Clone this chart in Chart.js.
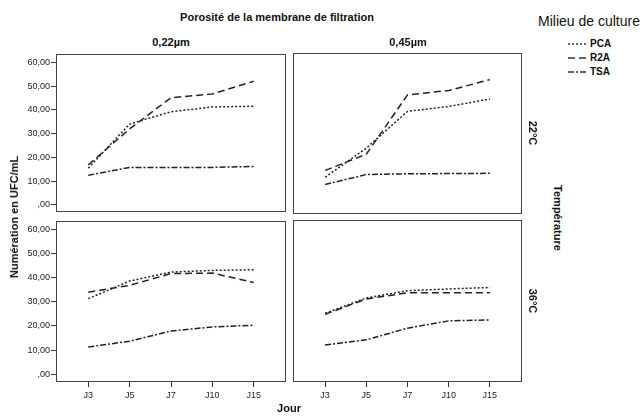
<!DOCTYPE html>
<html>
<head>
<meta charset="utf-8">
<script src="https://cdn.jsdelivr.net/npm/chart.js@4/dist/chart.umd.min.js"></script>
<style>
  html, body { margin: 0; padding: 0; background: #fff; }
  #wrap { position: relative; width: 641px; height: 418px; overflow: hidden; background: #fff;
          font-family: "Liberation Sans", Arial, sans-serif; color: #111; }
  canvas { position: absolute; }
  .t { position: absolute; white-space: nowrap; }
  .b { font-weight: bold; font-size: 11px; }
  .rot90 { transform: translate(-50%, -50%) rotate(90deg); }
  .rotm90 { transform: translate(-50%, -50%) rotate(-90deg); }
  .ctr { transform: translate(-50%, -50%); }
  .leg { position: absolute; left: 568px; font-size: 10px; font-weight: bold; display: flex; align-items: center; }
  .leg svg { margin-right: 3px; }
</style>
</head>
<body>
<div id="wrap">
  <canvas id="c1" width="291" height="171" style="left:0px;top:48px;"></canvas>
  <canvas id="c2" width="239" height="171" style="left:288px;top:48px;"></canvas>
  <canvas id="c3" width="291" height="203" style="left:0px;top:215px;"></canvas>
  <canvas id="c4" width="239" height="203" style="left:288px;top:215px;"></canvas>

  <div class="t b ctr" style="left:277px;top:17px;">Porosité de la membrane de filtration</div>
  <div class="t b ctr" style="left:171px;top:42px;">0,22µm</div>
  <div class="t b ctr" style="left:408px;top:42px;">0,45µm</div>
  <div class="t" style="left:538px;top:13px;font-size:14px;">Milieu de culture</div>
  <div class="leg" style="top:38px;"><svg width="19" height="4"><line x1="0" y1="2" x2="19" y2="2" stroke="#333" stroke-width="1.5" stroke-dasharray="2,2"/></svg>PCA</div>
  <div class="leg" style="top:52px;"><svg width="19" height="4"><line x1="0" y1="2" x2="19" y2="2" stroke="#333" stroke-width="1.5" stroke-dasharray="7,4"/></svg>R2A</div>
  <div class="leg" style="top:66px;"><svg width="19" height="4"><line x1="0" y1="2" x2="19" y2="2" stroke="#333" stroke-width="1.5" stroke-dasharray="6,2,2,2"/></svg>TSA</div>
  <div class="t b rot90" style="left:533px;top:133px;">22°C</div>
  <div class="t b rot90" style="left:533px;top:301px;">36°C</div>
  <div class="t b rot90" style="left:558px;top:218px;">Température</div>
  <div class="t b rotm90" style="left:14px;top:217px;">Numération en UFC/mL</div>
  <div class="t b ctr" style="left:289px;top:408px;">Jour</div>
</div>
<script>
// Categories
const days = ['J3', 'J5', 'J7', 'J10', 'J15'];
const seriesNames = ['PCA', 'R2A', 'TSA'];
// 0,22µm – 22°C
const pca_022_22 = [15.5, 34.0, 39.2, 41.2, 41.5];
const r2a_022_22 = [16.8, 32.0, 45.1, 46.7, 52.0];
const tsa_022_22 = [12.5, 15.8, 15.8, 15.8, 16.2];
// 0,45µm – 22°C
const pca_045_22 = [12.0, 24.0, 39.2, 41.2, 44.3];
const r2a_045_22 = [14.8, 21.5, 46.0, 47.8, 52.3];
const tsa_045_22 = [9.0, 13.1, 13.4, 13.5, 13.6];
// 0,22µm – 36°C
const pca_022_36 = [31.3, 38.6, 42.3, 43.0, 43.3];
const r2a_022_36 = [34.0, 36.8, 41.7, 41.9, 38.0];
const tsa_022_36 = [11.3, 13.7, 17.9, 19.6, 20.3];
// 0,45µm – 36°C
const pca_045_36 = [25.0, 31.3, 34.3, 35.0, 35.6];
const r2a_045_36 = [24.6, 30.9, 33.4, 33.4, 33.4];
const tsa_045_36 = [12.0, 14.1, 18.9, 21.9, 22.3];
// Y tick labels
const yTicks = [0, 10, 20, 30, 40, 50, 60];

const FONT = '"Liberation Sans", Arial, sans-serif';
const dashes = [[2, 2], [7, 4], [6, 2, 2, 2]];

const boxPlugin = {
  id: 'box',
  afterDraw(chart) {
    const { ctx, chartArea: a } = chart;
    ctx.save();
    ctx.strokeStyle = '#444';
    ctx.lineWidth = 1;
    ctx.strokeRect(Math.round(a.left) + 0.5, Math.round(a.top) + 0.5,
                   Math.round(a.right - a.left) - 1, Math.round(a.bottom - a.top) - 1);
    ctx.restore();
  }
};

function yLabel(v) {
  return v === 0 ? ',00' : v.toFixed(2).replace('.', ',');
}

function makePanel(id, sets, showX, showY, padding) {
  const datasets = sets.map((vals, k) => ({
    label: seriesNames[k],
    data: vals.map((v, i) => ({ x: i, y: v })),
    borderColor: '#222',
    borderWidth: 1.5,
    borderDash: dashes[k],
    pointRadius: 0,
    tension: 0,
    fill: false
  }));
  new Chart(document.getElementById(id), {
    type: 'line',
    data: { datasets },
    plugins: [boxPlugin],
    options: {
      responsive: false,
      maintainAspectRatio: false,
      animation: false,
      layout: { padding },
      plugins: { legend: { display: false }, tooltip: { enabled: false }, title: { display: false } },
      scales: {
        x: {
          type: 'linear',
          min: -0.78, max: 4.78,
          display: showX,
          afterBuildTicks: s => { s.ticks = days.map((d, i) => ({ value: i })); },
          afterFit: s => { s.height = showX ? 36 : 0; },
          ticks: {
            callback: v => days[v],
            font: { size: 9, family: FONT },
            color: '#222',
            padding: 3,
            maxRotation: 0,
            autoSkip: false
          },
          grid: { drawOnChartArea: false, tickLength: 5, color: '#333' },
          border: { display: false }
        },
        y: {
          type: 'linear',
          min: -3.2, max: 63.3,
          display: showY,
          afterBuildTicks: s => { s.ticks = yTicks.map(v => ({ value: v })); },
          afterFit: s => { s.width = showY ? 56 : 0; },
          ticks: {
            callback: v => yLabel(v),
            font: { size: 9, family: FONT },
            color: '#222',
            padding: 1,
            autoSkip: false
          },
          grid: { drawOnChartArea: false, tickLength: 5, color: '#333' },
          border: { display: false }
        }
      }
    }
  });
}

makePanel('c1', [pca_022_22, r2a_022_22, tsa_022_22], false, true, { top: 5, right: 5, bottom: 5, left: 0 });
makePanel('c2', [pca_045_22, r2a_045_22, tsa_045_22], false, false, { top: 5, right: 5, bottom: 5, left: 5 });
makePanel('c3', [pca_022_36, r2a_022_36, tsa_022_36], true, true, { top: 5, right: 5, bottom: 0, left: 0 });
makePanel('c4', [pca_045_36, r2a_045_36, tsa_045_36], true, false, { top: 5, right: 5, bottom: 0, left: 5 });
</script>
</body>
</html>
